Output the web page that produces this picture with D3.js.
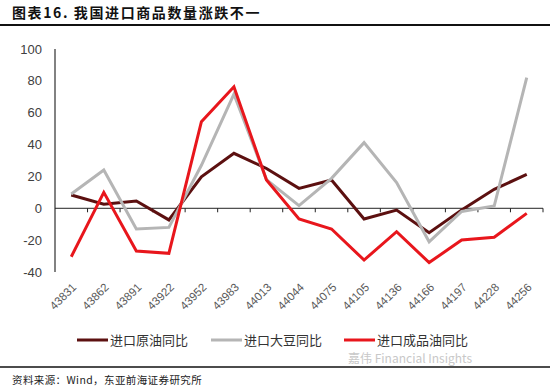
<!DOCTYPE html>
<html>
<head>
<meta charset="utf-8">
<script src="https://cdn.jsdelivr.net/npm/d3@7"></script>
<style>
  body { margin: 0; background: #fff; }
  svg { display: block; font-family: "Liberation Sans", Arial, sans-serif; }
  .cjk { font-family: "Noto Sans CJK SC", sans-serif; }
</style>
</head>
<body>
<svg id="chart" width="550" height="389"></svg>
<script>
// 月份（Excel 日期序号）
const categories = ["43831", "43862", "43891", "43922", "43952", "43983", "44013", "44044",
    "44075", "44105", "44136", "44166", "44197", "44228", "44256"];
// 进口原油同比
const crudeOil = [8.3, 2.5, 4.6, -7.3, 19.8, 34.5, 25, 12.5, 17.8, -6.7, -1.1, -15.3, -1, 11.9, 21.3];
// 进口大豆同比
const soybean = [9, 24, -13, -12, 27, 71.6, 18, 1.7, 18.8, 41.2, 16.1, -21, -2, 1.4, 82];
// 进口成品油同比
const refinedOil = [-30.4, 10, -26.8, -28.3, 54.4, 76.3, 17.8, -6.7, -13, -32.5, -14.7, -34.1, -19.9, -18.2, -3.2];
const yTicks = [100, 80, 60, 40, 20, 0, -20, -40];

const series = [
    { name: "进口原油同比", values: crudeOil, color: "#5c1010" },
    { name: "进口大豆同比", values: soybean, color: "#b5b5b5" },
    { name: "进口成品油同比", values: refinedOil, color: "#e8161c" }
];

const svg = d3.select("#chart");

// 标题
svg.append("text")
    .attr("class", "cjk")
    .attr("x", 12).attr("y", 18)
    .attr("font-size", 14).attr("font-weight", "bold")
    .attr("letter-spacing", 1.6)
    .attr("fill", "#111")
    .text("图表16.  我国进口商品数量涨跌不一");
svg.append("line")
    .attr("x1", 0).attr("x2", 550).attr("y1", 25).attr("y2", 25)
    .attr("stroke", "#111").attr("stroke-width", 2);

const x = d3.scaleBand().domain(categories).range([55, 543]).padding(0);
const y = d3.scaleLinear().domain([-40, 100]).range([272, 49]);

// y 轴
svg.append("line")
    .attr("x1", 55).attr("x2", 55).attr("y1", y(100)).attr("y2", y(-40))
    .attr("stroke", "#595959").attr("stroke-width", 1.5);
svg.append("g").selectAll("text")
    .data(yTicks)
    .join("text")
    .attr("x", 42).attr("y", d => y(d))
    .attr("dy", "0.35em")
    .attr("text-anchor", "end")
    .attr("font-size", 13)
    .attr("fill", "#404040")
    .text(d => d);

// x 轴（零线）
svg.append("line")
    .attr("x1", 55).attr("x2", 543).attr("y1", y(0)).attr("y2", y(0))
    .attr("stroke", "#222").attr("stroke-width", 1);
const tickPos = categories.slice(1).map(c => x(c)).concat([x.range()[1]]);
svg.append("g").selectAll("line")
    .data(tickPos)
    .join("line")
    .attr("x1", d => d).attr("x2", d => d)
    .attr("y1", y(0)).attr("y2", y(0) + 4)
    .attr("stroke", "#222").attr("stroke-width", 1);

svg.append("g").selectAll("text")
    .data(categories)
    .join("text")
    .attr("transform", d => `translate(${x(d) + x.bandwidth() / 2 + 3},285) rotate(-45)`)
    .attr("text-anchor", "end")
    .attr("dy", "0.35em")
    .attr("font-size", 11.5)
    .attr("fill", "#595959")
    .text(d => d);

// 折线
const line = d3.line()
    .x((d, i) => x(categories[i]) + x.bandwidth() / 2)
    .y(d => y(d));

series.forEach(s => {
    svg.append("path")
        .datum(s.values)
        .attr("fill", "none")
        .attr("stroke", s.color)
        .attr("stroke-width", 3)
        .attr("stroke-linejoin", "miter")
        .attr("d", line);
});

// 图例
const legendX = [77, 211, 344];
const legend = svg.append("g").selectAll("g")
    .data(series)
    .join("g")
    .attr("transform", (d, i) => `translate(${legendX[i]},340)`);
legend.append("line")
    .attr("x1", 0).attr("x2", 31).attr("y1", 0).attr("y2", 0)
    .attr("stroke", d => d.color).attr("stroke-width", 3);
legend.append("text")
    .attr("class", "cjk")
    .attr("x", 33).attr("dy", "0.35em")
    .attr("font-size", 13)
    .attr("fill", "#333")
    .text(d => d.name);

// 底部
svg.append("line")
    .attr("x1", 0).attr("x2", 550).attr("y1", 367).attr("y2", 367)
    .attr("stroke", "#111").attr("stroke-width", 1.5);
svg.append("text")
    .attr("class", "cjk")
    .attr("x", 348).attr("y", 363)
    .attr("font-size", 12)
    .attr("fill", "#c8c8c8")
    .text("嘉伟 Financial Insights");
svg.append("text")
    .attr("class", "cjk")
    .attr("x", 12).attr("y", 384)
    .attr("font-size", 10.5)
    .attr("letter-spacing", 0.4)
    .attr("fill", "#222")
    .text("资料来源：Wind，东亚前海证券研究所");
</script>
</body>
</html>
